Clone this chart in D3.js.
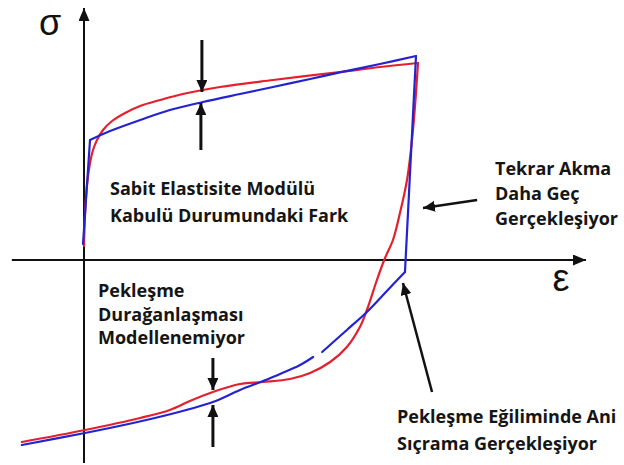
<!DOCTYPE html>
<html>
<head>
<meta charset="utf-8">
<script src="https://cdn.jsdelivr.net/npm/d3@7"></script>
<style>
  html, body { margin: 0; padding: 0; background: #fff; }
  svg { display: block; }
  .lbl { font-family: "Open Sans", Lato, sans-serif; font-weight: 700; fill: #151515; }
  .sym { font-family: "Liberation Sans", Arial, sans-serif; fill: #111; }
</style>
</head>
<body>
<svg id="chart" width="624" height="465"></svg>
<script>
// Normalised strain / stress: 1 = peak strain of the cycle, 1 = nominal peak stress.

// Blue model: constant elastic modulus, bilinear-like hardening
const blueElastic = [[-0.003, 0.08], [0.018, 0.60]];
const blueHardening = [
  [0.018, 0.600], [0.078, 0.645], [0.168, 0.700], [0.257, 0.750], [0.356, 0.790],
  [0.467, 0.830], [0.566, 0.865], [0.677, 0.905], [0.766, 0.938], [0.886, 0.980], [0.994, 1.020]
];
const blueUnloading = [[0.994, 1.020], [0.961, -0.060]];
const blueReverseA = [[0.961, -0.060], [0.904, -0.160], [0.847, -0.260], [0.787, -0.350], [0.713, -0.460]];
const blueReverseB = [
  [0.686, -0.485], [0.647, -0.525], [0.587, -0.570], [0.536, -0.605], [0.467, -0.650],
  [0.386, -0.710], [0.317, -0.745], [0.249, -0.775], [0.147, -0.815], [0.003, -0.865], [-0.186, -0.925]
];

// Red: measured response
const redLoading = [
  [0.000, 0.070], [0.003, 0.225], [0.009, 0.375], [0.018, 0.485], [0.027, 0.550],
  [0.039, 0.600], [0.057, 0.650], [0.084, 0.695], [0.123, 0.735], [0.168, 0.770],
  [0.228, 0.800], [0.296, 0.830], [0.407, 0.865], [0.566, 0.900], [0.766, 0.940],
  [0.886, 0.965], [1.000, 0.985]
];
const redReverse = [
  [1.000, 0.985], [0.985, 0.650], [0.967, 0.400], [0.946, 0.235], [0.925, 0.100],
  [0.900, 0.005], [0.877, -0.100], [0.847, -0.250], [0.826, -0.335], [0.787, -0.435],
  [0.737, -0.510], [0.677, -0.565], [0.617, -0.595], [0.536, -0.610], [0.467, -0.620],
  [0.386, -0.660], [0.317, -0.705], [0.257, -0.750], [0.168, -0.790], [0.003, -0.850],
  [-0.186, -0.910]
];

// Axis extents
const epsAxis = [-0.216, 1.503];
const sigAxis = [-1.015, 1.26];

// Annotation arrows: [from, to] in data units
const arrowsTop = [[[0.353, 1.10], [0.353, 0.840]], [[0.350, 0.550], [0.350, 0.785]]];
const arrowsBottom = [[[0.386, -0.490], [0.386, -0.650]], [[0.386, -0.935], [0.386, -0.725]]];
const arrowLate = [[1.177, 0.300], [1.015, 0.260]];
const arrowJump = [[1.042, -0.660], [0.955, -0.115]];

const labelTopMiddle = ["Sabit Elastisite Modülü", "Kabulü Durumundaki Fark"];
const labelRight = ["Tekrar Akma", "Daha Geç", "Gerçekleşiyor"];
const labelLeft = ["Pekleşme", "Durağanlaşması", "Modellenemiyor"];
const labelBottom = ["Pekleşme Eğiliminde Ani", "Sıçrama Gerçekleşiyor"];

const svg = d3.select("#chart");
const x = d3.scaleLinear().domain([0, 1]).range([84, 418]);
const y = d3.scaleLinear().domain([0, 1]).range([260, 60]);

const defs = svg.append("defs");
function head(id, w, l) {
  defs.append("marker")
    .attr("id", id).attr("viewBox", `0 ${-w / 2} ${l} ${w}`)
    .attr("refX", l).attr("refY", 0)
    .attr("markerWidth", l).attr("markerHeight", w)
    .attr("markerUnits", "userSpaceOnUse")
    .attr("orient", "auto")
    .append("path").attr("d", `M0,${-w / 2}L${l},0L0,${w / 2}Z`).attr("fill", "#111");
}
head("axisHead", 11, 13);
head("annHead", 11, 12);

// Axes
svg.append("line")
  .attr("x1", x(epsAxis[0])).attr("x2", x(epsAxis[1]))
  .attr("y1", y(0)).attr("y2", y(0))
  .attr("stroke", "#111").attr("stroke-width", 2).attr("marker-end", "url(#axisHead)");
svg.append("line")
  .attr("x1", x(0)).attr("x2", x(0))
  .attr("y1", y(sigAxis[0])).attr("y2", y(sigAxis[1]))
  .attr("stroke", "#111").attr("stroke-width", 2).attr("marker-end", "url(#axisHead)");

svg.append("text").attr("class", "sym").attr("x", 50).attr("y", 35)
  .attr("text-anchor", "middle").attr("font-size", 36).text("σ");
svg.append("text").attr("class", "sym").attr("x", 561).attr("y", 291)
  .attr("text-anchor", "middle").attr("font-size", 38).text("ε");

const lineLin = d3.line().x(d => x(d[0])).y(d => y(d[1]));
const lineSmooth = d3.line().x(d => x(d[0])).y(d => y(d[1])).curve(d3.curveCatmullRom.alpha(0.5));

const RED = "#e4202e", BLUE = "#2323d2";

function draw(data, gen, color) {
  svg.append("path").datum(data).attr("d", gen)
    .attr("fill", "none").attr("stroke", color).attr("stroke-width", 2.2)
    .attr("stroke-linejoin", "round").attr("stroke-linecap", "round");
}

draw(redLoading, lineSmooth, RED);
draw(redReverse, lineSmooth, RED);

draw(blueElastic, lineLin, BLUE);
draw(blueHardening, lineSmooth, BLUE);
draw(blueUnloading, lineLin, BLUE);
draw(blueReverseA, lineSmooth, BLUE);
draw(blueReverseB, lineSmooth, BLUE);

// Annotation arrows
function arrow(a, w) {
  svg.append("line")
    .attr("x1", x(a[0][0])).attr("y1", y(a[0][1]))
    .attr("x2", x(a[1][0])).attr("y2", y(a[1][1]))
    .attr("stroke", "#111").attr("stroke-width", w)
    .attr("marker-end", "url(#annHead)");
}
arrowsTop.forEach(a => arrow(a, 3));
arrowsBottom.forEach(a => arrow(a, 3));
arrow(arrowLate, 2.5);
arrow(arrowJump, 2.5);

function label(lines, x0, y0, dy, size) {
  const t = svg.append("text").attr("class", "lbl").attr("font-size", size);
  lines.forEach((s, i) => {
    t.append("tspan").attr("x", x0).attr("y", y0 + i * dy).text(s);
  });
}
label(labelTopMiddle, 110, 195, 27, 18);
label(labelRight, 495, 175, 25, 18);
label(labelLeft, 98, 297, 23.5, 18);
label(labelBottom, 397, 423, 27, 18);
</script>
</body>
</html>
